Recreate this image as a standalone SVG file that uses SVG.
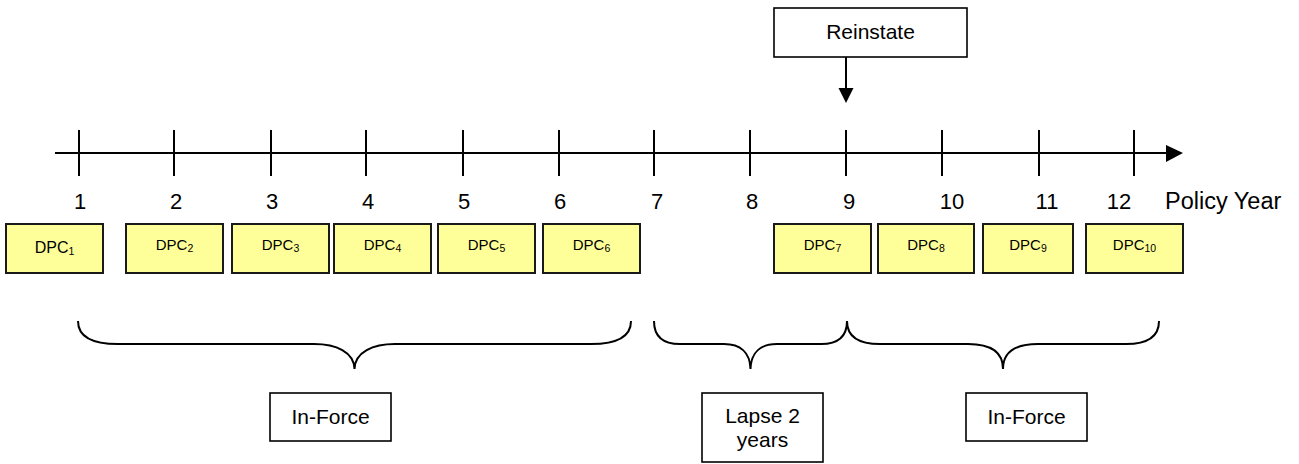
<svg xmlns="http://www.w3.org/2000/svg" width="1299" height="464" viewBox="0 0 1299 464">
<style>
text{font-family:"Liberation Sans",Arial,sans-serif;fill:#000}
.lbl{font-size:21px;text-anchor:middle}
.yr{font-size:22px;text-anchor:middle}
.dpc rect{fill:#FFFF99;stroke:#1a1a1a;stroke-width:2}
.dpc text{font-size:15px;text-anchor:middle}
.sub{font-size:10.5px}
.box{fill:#fff;stroke:#000;stroke-width:1.6}
.ax{stroke:#000;stroke-width:2;fill:none}
.brace{stroke:#000;stroke-width:2;fill:none}
</style>
<rect width="1299" height="464" fill="#fff"/>
<g id="axis">
<line class="ax" x1="55" y1="153" x2="1168" y2="153"/>
<polygon points="1166,145 1183,153 1166,162" fill="#000"/>
<g class="ax">
<line x1="79" y1="130" x2="79" y2="176"/>
<line x1="174" y1="130" x2="174" y2="176"/>
<line x1="271" y1="130" x2="271" y2="176"/>
<line x1="366" y1="130" x2="366" y2="176"/>
<line x1="463" y1="130" x2="463" y2="176"/>
<line x1="559" y1="130" x2="559" y2="176"/>
<line x1="654" y1="130" x2="654" y2="176"/>
<line x1="750" y1="130" x2="750" y2="176"/>
<line x1="846" y1="130" x2="846" y2="176"/>
<line x1="942" y1="130" x2="942" y2="176"/>
<line x1="1039" y1="130" x2="1039" y2="176"/>
<line x1="1134" y1="130" x2="1134" y2="176"/>
</g>
<text class="yr" x="80" y="209">1</text>
<text class="yr" x="176" y="209">2</text>
<text class="yr" x="272" y="209">3</text>
<text class="yr" x="368" y="209">4</text>
<text class="yr" x="464" y="209">5</text>
<text class="yr" x="560" y="209">6</text>
<text class="yr" x="657" y="209">7</text>
<text class="yr" x="752" y="209">8</text>
<text class="yr" x="849" y="209">9</text>
<text class="yr" x="952" y="209">10</text>
<text class="yr" x="1047" y="209">11</text>
<text class="yr" x="1119" y="209">12</text>
<text x="1165" y="209" style="font-size:23.5px">Policy Year</text>
</g>
<g id="dpc1" class="dpc"><rect x="6" y="224" width="97" height="49"/><text x="54.5" y="253" style="font-size:16px">DPC<tspan class="sub" dy="2">1</tspan></text></g>
<g id="dpc2" class="dpc"><rect x="126" y="224" width="97" height="49"/><text x="174.5" y="250">DPC<tspan class="sub" dy="2">2</tspan></text></g>
<g id="dpc3" class="dpc"><rect x="232" y="224" width="97" height="49"/><text x="280.5" y="250">DPC<tspan class="sub" dy="2">3</tspan></text></g>
<g id="dpc4" class="dpc"><rect x="334" y="224" width="97" height="49"/><text x="382.5" y="250">DPC<tspan class="sub" dy="2">4</tspan></text></g>
<g id="dpc5" class="dpc"><rect x="438" y="224" width="97" height="49"/><text x="486.5" y="250">DPC<tspan class="sub" dy="2">5</tspan></text></g>
<g id="dpc6" class="dpc"><rect x="543" y="224" width="97" height="49"/><text x="591.5" y="250">DPC<tspan class="sub" dy="2">6</tspan></text></g>
<g id="dpc7" class="dpc"><rect x="774" y="224" width="97" height="49"/><text x="822.5" y="250">DPC<tspan class="sub" dy="2">7</tspan></text></g>
<g id="dpc8" class="dpc"><rect x="878" y="224" width="96" height="49"/><text x="926" y="250">DPC<tspan class="sub" dy="2">8</tspan></text></g>
<g id="dpc9" class="dpc"><rect x="983" y="224" width="90" height="49"/><text x="1028" y="250">DPC<tspan class="sub" dy="2">9</tspan></text></g>
<g id="dpc10" class="dpc"><rect x="1086" y="224" width="97" height="49"/><text x="1134.5" y="250">DPC<tspan class="sub" dy="2">10</tspan></text></g>
<g id="reinstate"><rect class="box" x="774" y="8" width="193" height="49"/><text class="lbl" x="870.5" y="39">Reinstate</text></g>
<g id="inforce1"><rect class="box" x="270" y="393" width="121" height="48"/><text class="lbl" x="330.5" y="424">In-Force</text></g>
<g id="lapse"><rect class="box" x="702" y="393" width="121" height="69"/><text class="lbl" x="762.5" y="423">Lapse 2</text><text class="lbl" x="762.5" y="447">years</text></g>
<g id="inforce2"><rect class="box" x="966" y="393" width="121" height="48"/><text class="lbl" x="1026.5" y="424">In-Force</text></g>
<g id="connectors">
<line x1="846" y1="57" x2="846" y2="89" stroke="#000" stroke-width="2"/>
<polygon points="838.5,88 853.5,88 846,103" fill="#000"/>
<path class="brace" d="M78,321 C78,336 90,344 118,344 L314,344 C336,344 354,352 354.5,369 C355,352 373,344 395,344 L591,344 C619,344 631,336 631,321"/>
<path class="brace" d="M654,321 C654,336 662,344 680,344 L724,344 C740,344 750,352 750.5,369 C751,352 761,344 777,344 L821,344 C839,344 847,336 847,321"/>
<path class="brace" d="M847,321 C847,336 857,344 880,344 L968,344 C990,344 1003,352 1003,369 C1003,352 1016,344 1038,344 L1126,344 C1149,344 1159,336 1159,321"/>
</g>
</svg>
